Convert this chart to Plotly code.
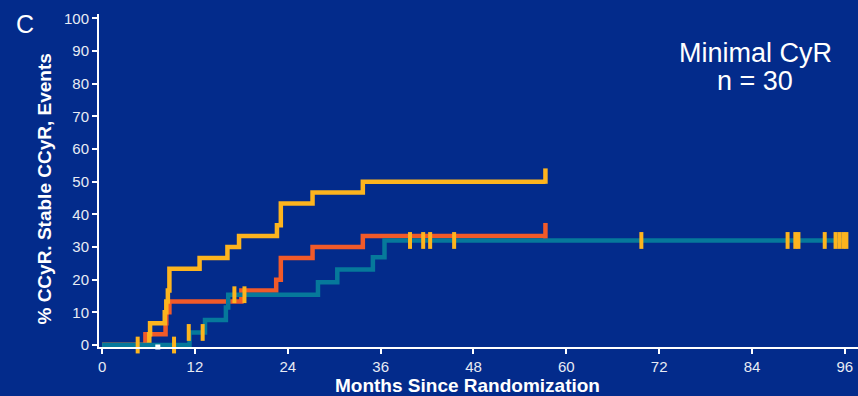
import plotly.graph_objects as go

# Cumulative incidence (step) curves, months since randomization vs percent
ccyr_t = [0, 6.1, 6.2, 8.1, 8.3, 8.5, 8.7, 12.6, 16.2, 17.7, 22.6, 23.1, 27.2, 33.7, 57.3]
ccyr_v = [0, 3.33, 6.67, 10.0, 13.33, 16.67, 23.33, 26.67, 30.0, 33.33, 36.67, 43.33, 46.67, 50.0, 50.0]

stable_t = [0, 5.6, 8.2, 8.3, 8.7, 18.0, 22.5, 23.1, 27.2, 33.7, 57.3]
stable_v = [0, 3.33, 6.67, 10.0, 13.33, 16.67, 20.0, 26.67, 30.0, 33.33, 33.33]

events_t = [0, 11.3, 13.3, 16.0, 16.3, 27.9, 30.4, 35.0, 36.5, 96.4]
events_v = [0, 3.85, 7.7, 11.5, 15.4, 19.2, 23.1, 26.9, 32.0, 32.0]

# Censoring marks
cens_t = [4.6, 9.3, 11.2, 13.0, 17.1, 18.4, 39.8, 41.5, 42.4, 45.5, 69.7,
          88.6, 89.6, 90.0, 93.4, 94.8, 95.3, 95.8, 96.2]
cens_v = [0, 0, 3.85, 3.85, 15.4, 15.4, 32.0, 32.0, 32.0, 32.0, 32.0,
          32.0, 32.0, 32.0, 32.0, 32.0, 32.0, 32.0, 32.0]
end_t = [57.3]
ccyr_end = [51.7]
stable_end = [35.0]
white_t = [7.2]
white_v = [-0.6]

x_ticks = [0, 12, 24, 36, 48, 60, 72, 84, 96]
y_ticks = [0, 10, 20, 30, 40, 50, 60, 70, 80, 90, 100]

BG = "#032B8B"
YEL = "#FDB41E"
RED = "#F15A29"
TEAL = "#06799B"
FONT = "Liberation Sans, Arial, sans-serif"

fig = go.Figure()
fig.add_trace(go.Scatter(x=stable_t, y=stable_v, mode="lines", line_shape="hv",
                         line=dict(color=RED, width=4.5), name="Stable CCyR"))
fig.add_trace(go.Scatter(x=ccyr_t, y=ccyr_v, mode="lines", line_shape="hv",
                         line=dict(color=YEL, width=4.5), name="CCyR"))
fig.add_trace(go.Scatter(x=events_t, y=events_v, mode="lines", line_shape="hv",
                         line=dict(color=TEAL, width=4.5), name="Events"))
fig.add_trace(go.Scatter(x=end_t, y=stable_end, mode="markers", cliponaxis=False,
                         marker=dict(symbol="line-ns", size=11, line=dict(color=RED, width=4.5)),
                         showlegend=False))
fig.add_trace(go.Scatter(x=end_t, y=ccyr_end, mode="markers", cliponaxis=False,
                         marker=dict(symbol="line-ns", size=11, line=dict(color=YEL, width=4.5)),
                         showlegend=False))
fig.add_trace(go.Scatter(x=cens_t, y=cens_v, mode="markers", cliponaxis=False,
                         marker=dict(symbol="line-ns", size=12, line=dict(color=YEL, width=4)),
                         showlegend=False))
fig.add_trace(go.Scatter(x=white_t, y=white_v, mode="markers", cliponaxis=False,
                         marker=dict(symbol="square", size=5, color="white", line=dict(width=0)),
                         showlegend=False))

fig.update_layout(
    width=858, height=396,
    margin=dict(l=98.5, r=0, t=14, b=49),
    paper_bgcolor=BG, plot_bgcolor=BG,
    showlegend=False,
    font=dict(family=FONT, color="#E8EBF4", size=15),
    xaxis=dict(range=[-0.4, 97.7], tickvals=x_ticks, ticktext=[str(v) for v in x_ticks],
               showgrid=False, zeroline=False, showline=True, linecolor="white", linewidth=2,
               ticks="outside", ticklen=5, tickwidth=2, tickcolor="white",
               tickfont=dict(size=15, color="#E8EBF4")),
    yaxis=dict(range=[-0.6, 101.3], tickvals=y_ticks, ticktext=[str(v) for v in y_ticks],
               showgrid=False, zeroline=False, showline=True, linecolor="white", linewidth=2,
               ticks="outside", ticklen=5, tickwidth=2, tickcolor="white",
               tickfont=dict(size=15, color="#E8EBF4")),
    annotations=[
        dict(text="C", x=24, y=24, showarrow=False,
             font=dict(size=25, color="white", family=FONT)),
        dict(text="<b>% CCyR. Stable CCyR, Events</b>", textangle=-90,
             x=43, y=189, showarrow=False, font=dict(size=19, color="white", family=FONT)),
        dict(text="<b>Months Since Randomization</b>", x=467, y=386, showarrow=False,
             font=dict(size=19, color="white", family=FONT)),
        dict(text="Minimal CyR", x=755, y=53, showarrow=False,
             font=dict(size=27, color="white", family=FONT)),
        dict(text="n = 30", x=755, y=81, showarrow=False,
             font=dict(size=27, color="white", family=FONT)),
    ],
)

# Annotation positions above are page pixels; convert to paper fractions
W, H = 858, 396
l, r, t, b = 98.5, 0, 14, 49
pw, ph = W - l - r, H - t - b
for a in fig.layout.annotations:
    px, py = a.x, a.y
    a.xref = "paper"
    a.yref = "paper"
    a.x = (px - l) / pw
    a.y = (H - b - py) / ph
    a.xanchor = "center"
    a.yanchor = "middle"

fig.write_html("out.html")
